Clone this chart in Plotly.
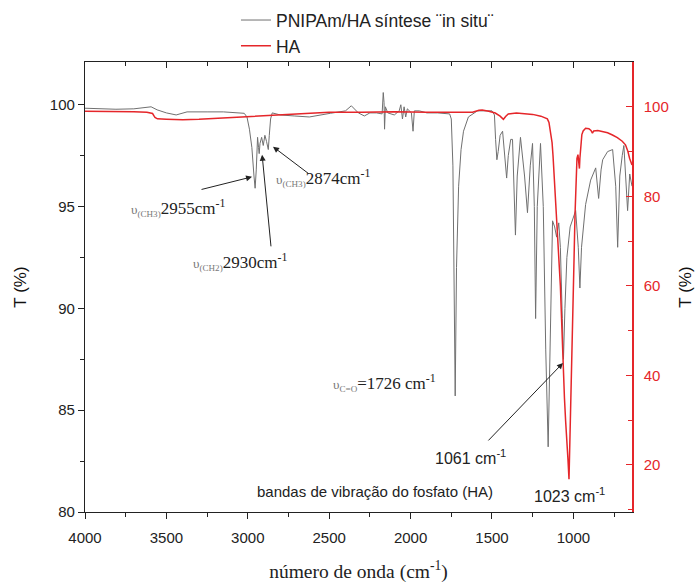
import plotly.graph_objects as go

# ---------------- data ----------------
# PNIPAm/HA (left axis, T %)
wn_pnipam = [4000, 3900, 3810, 3700, 3594, 3557, 3500, 3440, 3373, 3250, 3150, 3022, 3005, 2990, 2975,
             2962, 2955, 2948, 2940, 2934, 2930, 2925, 2915, 2905, 2895, 2885, 2878, 2874, 2868, 2860,
             2850, 2800, 2715, 2622, 2493, 2400, 2364, 2321, 2284, 2250, 2210, 2175, 2168, 2163, 2160,
             2155, 2140, 2100, 2070, 2060, 2050, 2040, 2030, 2020, 1995, 1985, 1977, 1946, 1900, 1835,
             1760, 1750, 1740, 1733, 1726, 1718, 1705, 1690, 1675, 1645, 1590, 1500, 1485, 1478, 1470,
             1462, 1450, 1435, 1420, 1410, 1400, 1385, 1374, 1365, 1356, 1345, 1325, 1300, 1282, 1265,
             1251, 1240, 1232, 1222, 1202, 1185, 1170, 1155, 1145, 1128, 1115, 1103, 1090, 1080, 1068,
             1061, 1052, 1040, 1020, 1000, 986, 970, 960, 950, 925, 894, 863, 845, 830, 820,
             790, 759, 740, 728, 715, 700, 690, 667, 654, 640]
t_pnipam = [99.83, 99.8, 99.78, 99.8, 99.9, 99.75, 99.6, 99.5, 99.65, 99.65, 99.65, 99.58, 99.4, 98.8, 97.9,
            96.5, 95.9, 96.8, 98.4, 97.9, 97.6, 98.1, 98.4, 98.0, 98.5, 98.2, 97.9, 97.8, 98.5, 99.3,
            99.6, 99.5, 99.45, 99.4, 99.58, 99.7, 99.95, 99.6, 99.45, 99.6, 99.6, 99.55, 100.6, 100.1, 98.8,
            99.9, 99.6, 99.5, 99.7, 100.0, 99.3, 99.9, 99.4, 99.8, 99.6, 98.7, 99.7, 99.7, 99.6, 99.6,
            99.55, 99.3, 97.0, 92.0, 85.7, 92.0, 96.0, 97.8, 98.7, 99.4, 99.7, 99.7, 99.5, 98.3, 97.3,
            97.7, 98.5, 98.7, 97.2, 96.4, 97.5, 98.3, 98.3, 95.5, 93.6, 96.5, 98.4, 96.5, 94.7, 97.0,
            98.1, 95.0, 89.5, 95.0, 98.1, 95.0, 88.0, 83.2, 88.0, 94.3, 94.0, 93.5, 94.2, 93.0, 89.5,
            87.5, 90.0, 92.5, 94.0, 94.5, 94.8, 93.0, 91.0, 93.0, 95.1, 96.3, 96.9, 95.4, 96.8, 97.3,
            97.7, 97.8, 96.0, 93.0, 96.5, 97.5, 98.0, 94.8, 96.6, 96.0]

# HA (right axis, T %)
wn_ha = [4000, 3900, 3800, 3700, 3620, 3585, 3570, 3555, 3500, 3400, 3300, 3200, 3100, 3000, 2900,
         2800, 2700, 2600, 2500, 2300, 2100, 1900, 1700, 1620, 1580, 1560, 1520, 1480, 1450, 1430,
         1415, 1400, 1350, 1300, 1250, 1200, 1180, 1160, 1150, 1140, 1131, 1125, 1119, 1110, 1101,
         1090, 1080, 1070, 1064, 1055, 1048, 1040, 1033, 1027, 1022, 1015, 1008, 1002, 996, 990,
         984, 978, 972, 967, 963, 960, 955, 948, 940, 925, 905, 892, 883, 875, 850,
         820, 790, 760, 730, 700, 680, 665, 655, 640]
t_ha = [99.0, 99.0, 98.9, 98.9, 98.8, 98.5, 97.6, 97.3, 97.2, 97.1, 97.2, 97.4, 97.6, 97.8, 98.1,
        98.3, 98.5, 98.6, 98.8, 98.8, 98.9, 98.8, 98.8, 98.8, 99.2, 99.3, 99.0, 98.6, 97.9, 97.2,
        97.9, 98.4, 98.6, 98.5, 98.3, 97.9, 97.6, 97.3, 96.5, 94.5, 92.0, 89.0, 85.2, 79.0, 74.0,
        67.0, 60.0, 50.0, 43.0, 35.0, 30.0, 26.0, 21.0, 16.8, 24.0, 33.0, 44.0, 55.0, 66.0, 76.0,
        84.0, 88.5, 89.3, 87.0, 86.2, 88.5, 91.8, 93.8, 94.6, 95.2, 95.1, 94.7, 94.1, 94.6, 94.7,
        94.5, 94.2, 93.7, 93.1, 92.3, 91.5, 90.0, 88.5, 87.0]

x_range = [4000, 640]
y_left_range = [80, 102.1]
y_right_range = [9.5, 110]
left_ticks = [80, 85, 90, 95, 100]
right_ticks = [20, 40, 60, 80, 100]
bottom_ticks = [1000, 1500, 2000, 2500, 3000, 3500, 4000]

legend_gray = 'PNIPAm/HA síntese ¨in situ¨'
legend_red = 'HA'

RED = '#e5262a'
GRAY = '#707070'
SANS = 'Liberation Sans, Arial, sans-serif'
SERIF = 'Liberation Serif, Times New Roman, serif'

fig = go.Figure()
fig.add_trace(go.Scatter(x=wn_pnipam, y=t_pnipam, mode='lines', name=legend_gray,
                         line=dict(color=GRAY, width=1), yaxis='y'))
fig.add_trace(go.Scatter(x=wn_ha, y=t_ha, mode='lines', name=legend_red,
                         line=dict(color=RED, width=1.5), yaxis='y2'))
# invisible helper trace so the top (mirrored) axis with inward ticks is drawn
fig.add_trace(go.Scatter(x=wn_ha, y=t_ha, mode='lines', line=dict(width=0, color='rgba(0,0,0,0)'),
                         xaxis='x2', yaxis='y2', showlegend=False, hoverinfo='skip'))

fig.update_layout(
    width=695, height=583,
    margin=dict(l=85, r=63, t=62, b=71, autoexpand=False),
    paper_bgcolor='white', plot_bgcolor='white',
    showlegend=True,
    legend=dict(x=0.276, y=1.133, xanchor='left', yanchor='top', bgcolor='rgba(0,0,0,0)',
                font=dict(family=SANS, size=17.5, color='#222'), tracegroupgap=0,
                itemwidth=30),
    xaxis=dict(range=x_range, tickvals=bottom_ticks, ticks='outside', ticklen=6, tickwidth=1,
               tickcolor='#222', showline=True, linecolor='#222', linewidth=1.2, mirror=True,
               showgrid=False, zeroline=False, ticklabelstandoff=6, automargin=False,
               tickfont=dict(family=SANS, size=15, color='#222'),
               minor=dict(dtick=250, ticks='outside', ticklen=4, tickcolor='#222'),
               title=dict(text='número de onda (cm<sup>-1</sup>)',
                          font=dict(family=SERIF, size=19.5, color='#222'), standoff=22)),
    xaxis2=dict(range=x_range, overlaying='x', side='top', anchor='y', matches='x',
                showticklabels=False, ticks='inside', ticklen=6, tickcolor='#222', automargin=False,
                tickvals=bottom_ticks, showgrid=False, zeroline=False,
                minor=dict(dtick=250, ticks='inside', ticklen=4, tickcolor='#222')),
    yaxis=dict(range=y_left_range, tickvals=left_ticks, ticks='outside', ticklen=6,
               tickcolor='#222', showline=True, linecolor='#222', linewidth=1.2,
               showgrid=False, zeroline=False, automargin=False,
               minor=dict(dtick=2.5, ticks='outside', ticklen=4, tickcolor='#222'),
               tickfont=dict(family=SANS, size=15, color='#222'),
               title=dict(text='T (%)', font=dict(family=SANS, size=17, color='#111'), standoff=18)),
    yaxis2=dict(range=y_right_range, tickvals=right_ticks, overlaying='y', side='right',
                ticks='inside', ticklen=6, tickcolor=RED, showline=True, linecolor=RED,
                linewidth=1.5, showgrid=False, zeroline=False, ticklabelstandoff=7, automargin=False,
                minor=dict(dtick=10, ticks='inside', ticklen=4, tickcolor=RED),
                tickfont=dict(family=SANS, size=15, color=RED),
                title=dict(text='T (%)', font=dict(family=SANS, size=17, color='#111'), standoff=14)),
)

def ups(sub, num):
    return ("<span style='font-size:13px;color:#777'>υ<sub>" + sub + "</sub></span>"
            + num + "cm<sup>-1</sup>")

ann_font = dict(family=SERIF, size=17, color='#222')
annots = [
    dict(x=3429, y=94.94, text=ups('(CH3)', '2955'), font=ann_font),
    dict(x=3048, y=92.29, text=ups('(CH2)', '2930'), font=ann_font),
    dict(x=2538, y=96.41, text=ups('(CH3)', '2874'), font=ann_font),
    dict(x=2163, y=86.34, text="<span style='font-size:13px;color:#777'>υ<sub>C=O</sub></span>=1726 cm<sup>-1</sup>",
         font=ann_font),
    dict(x=1635, y=82.7, text='1061 cm<sup>-1</sup>', font=dict(family=SANS, size=16, color='#222')),
    dict(x=2219, y=81.0, text='bandas de vibração do fosfato (HA)', font=dict(family=SANS, size=15, color='#222')),
    dict(x=1021, y=80.85, text='1023 cm<sup>-1</sup>', font=dict(family=SANS, size=16, color='#222')),
]
for a in annots:
    fig.add_annotation(xref='x', yref='y', showarrow=False, xanchor='center', yanchor='middle', **a)

arrows = [
    (2974, 96.46, -52, 13),
    (2912, 97.54, 9, 93),
    (2845, 97.94, 37, 28),
    (1064, 87.32, -76, 79),
]
for hx, hy, ax, ay in arrows:
    fig.add_annotation(xref='x', yref='y', x=hx, y=hy, ax=ax, ay=ay, text='', showarrow=True,
                       arrowhead=2, arrowsize=1.2, arrowwidth=1, arrowcolor='#222')

fig.write_html('out.html')
